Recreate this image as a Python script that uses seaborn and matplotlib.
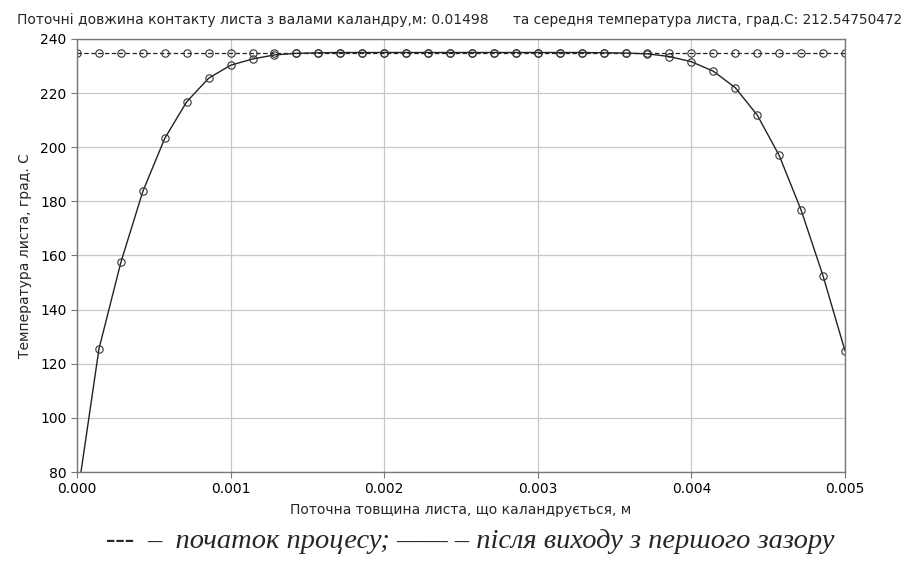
import matplotlib
matplotlib.use("Agg")
import matplotlib.pyplot as plt
import seaborn as sns
import pandas as pd

# Thickness coordinate, m
x_pos = [0.0, 0.0001429, 0.0002857, 0.0004286, 0.0005714, 0.0007143, 0.0008571,
         0.001, 0.0011429, 0.0012857, 0.0014286, 0.0015714, 0.0017143, 0.0018571,
         0.002, 0.0021429, 0.0022857, 0.0024286, 0.0025714, 0.0027143, 0.0028571,
         0.003, 0.0031429, 0.0032857, 0.0034286, 0.0035714, 0.0037143, 0.0038571,
         0.004, 0.0041429, 0.0042857, 0.0044286, 0.0045714, 0.0047143, 0.0048571,
         0.005]

# Initial temperature (start of process)
t_start = [235.0, 235.0, 235.0, 235.0, 235.0, 235.0, 235.0, 235.0, 235.0, 235.0,
           235.0, 235.0, 235.0, 235.0, 235.0, 235.0, 235.0, 235.0, 235.0, 235.0,
           235.0, 235.0, 235.0, 235.0, 235.0, 235.0, 235.0, 235.0, 235.0, 235.0,
           235.0, 235.0, 235.0, 235.0, 235.0, 235.0]

# Temperature after the first gap
t_after = [70.0, 125.5, 157.5, 183.7, 203.3, 216.8, 225.5, 230.3, 232.6, 234.1,
           234.7, 234.9, 235.0, 235.0, 235.0, 235.0, 235.0, 235.0, 235.0, 235.0,
           235.0, 235.0, 235.0, 235.0, 234.9, 234.8, 234.5, 233.5, 231.6, 228.1,
           222.0, 211.9, 197.0, 176.8, 152.5, 124.8]

y_ticks = [80, 100, 120, 140, 160, 180, 200, 220, 240]
x_ticks = [0.000, 0.001, 0.002, 0.003, 0.004, 0.005]

sns.set_style("whitegrid")
plt.rcParams['font.family'] = ['DejaVu Sans']

fig = plt.figure(figsize=(9.04, 5.64), dpi=100)
ax = fig.add_axes([0.0852, 0.1631, 0.8495, 0.7678])

df = pd.DataFrame({"x": x_pos, "start": t_start, "after": t_after})

sns.lineplot(data=df, x="x", y="start", ax=ax, color="#222222", linewidth=0.9,
             linestyle=(0, (3.5, 2)), marker="o", markersize=5.3,
             markerfacecolor="none", markeredgecolor="#333333", markeredgewidth=0.8)
sns.lineplot(data=df, x="x", y="after", ax=ax, color="#222222", linewidth=1.0,
             marker="o", markersize=5.3,
             markerfacecolor="none", markeredgecolor="#333333", markeredgewidth=0.8)

ax.set_xlim(0, 0.005)
ax.set_ylim(80, 240)
ax.set_xticks(x_ticks)
ax.set_xticklabels([f"{v:.3f}" for v in x_ticks], fontsize=10)
ax.set_yticks(y_ticks)
ax.set_yticklabels([str(v) for v in y_ticks], fontsize=10)
ax.grid(True, color="#c8c8c8", linewidth=0.9)
for s in ax.spines.values():
    s.set_color("#777777")
    s.set_linewidth(1.0)
ax.tick_params(axis="both", which="both", length=4, color="#777777",
               colors="black", direction="out", left=True, bottom=True)

ax.set_xlabel("Поточна товщина листа, що каландрується, м", fontsize=10, labelpad=5)
ax.set_ylabel("Температура листа, град. С", fontsize=10, labelpad=6)

fig.text(17 / 904, 1 - 20 / 564,
         "Поточні довжина контакту листа з валами каландру,м: 0.01498",
         fontsize=10, ha="left", va="center")
fig.text(513 / 904, 1 - 20 / 564,
         "та середня температура листа, град.С: 212.54750472",
         fontsize=9.85, ha="left", va="center")

fig.text(106 / 904, 1 - 541 / 564, "---", fontsize=20.5, fontweight="bold",
         family="Liberation Serif", ha="left", va="center")
fig.text(147 / 904, 1 - 541 / 564,
         "–  початок процесу; —— – після виходу з першого зазору",
         fontsize=20.5, style="italic", family="Liberation Serif",
         ha="left", va="center")

fig.savefig("out.png", dpi=100)
